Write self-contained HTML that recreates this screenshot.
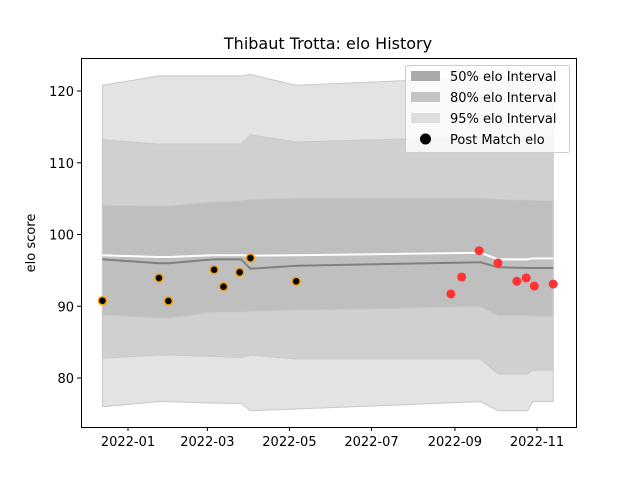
<!DOCTYPE html>
<html><head><meta charset="utf-8"><style>
body{margin:0;background:#fff}
svg text{font-family:"DejaVu Sans","Liberation Sans",sans-serif}
</style></head><body>
<svg id="chart" width="640" height="480" viewBox="0 0 640 480" xmlns="http://www.w3.org/2000/svg">
<rect width="640" height="480" fill="#fff"/>
<text x="328" y="49" font-size="16" text-anchor="middle">Thibaut Trotta: elo History</text>
<g id="plot"></g>
<text transform="translate(35,243) rotate(-90)" font-size="13" text-anchor="middle">elo score</text>
<g>
<rect x="405.5" y="65.5" width="164" height="87" rx="2" fill="#fff" fill-opacity="0.8" stroke="#ccc"/>
<rect x="411" y="71" width="29" height="10" fill="#aaa"/>
<text x="450" y="81" font-size="13">50% elo Interval</text>
<rect x="411" y="92" width="29" height="10" fill="#c4c4c4"/>
<text x="450" y="102" font-size="13">80% elo Interval</text>
<rect x="411" y="113" width="29" height="10" fill="#dedede"/>
<text x="450" y="123" font-size="13">95% elo Interval</text>
<circle cx="425.5" cy="139" r="5.5" fill="#000"/>
<text x="450" y="144" font-size="13">Post Match elo</text>
</g>
</svg>
<script>
const bandDays=[-19,23,30,63,84,91,125,262,275,297,301,316];
const upper95=[120.8,122.1,122.1,122.1,122.1,122.3,120.8,121.9,121.9,121.9,121.9,121.9];
const upper80=[113.2,112.6,112.6,112.6,112.6,113.9,112.9,113.6,113.6,113.6,113.6,113.6];
const upper50=[104.07,103.97,103.97,104.57,104.67,104.9,105.05,105.05,104.9,104.8,104.75,104.7];
const meanLine=[96.54,95.99,95.99,96.54,96.54,95.23,95.65,96.13,95.43,95.33,95.33,95.33];
const whiteLine=[97.1,96.86,96.86,97.1,97.1,97.05,97.1,97.46,96.54,96.54,96.68,96.68];
const lower50=[88.78,88.4,88.32,89.16,89.16,89.3,89.44,89.94,88.68,88.68,88.6,88.6];
const lower80=[82.75,83.2,83.2,83.02,82.88,83.2,82.65,82.65,80.56,80.56,81.1,81.1];
const lower95=[76.0,76.7,76.7,76.5,76.47,75.44,75.68,76.7,75.44,75.44,76.7,76.7];
const pastDays=[-19,23,30,64,71,83,91,125];
const pastElo=[90.77,93.94,90.73,95.09,92.73,94.73,96.72,93.48];
const recentDays=[240,248,261,275,289,296,302,316];
const recentElo=[91.71,94.08,97.74,96.03,93.48,93.94,92.82,93.10];
const xTickDays=[0,59,120,181,243,304];
const xTickLabels=["2022-01","2022-03","2022-05","2022-07","2022-09","2022-11"];
const yTicks=[80,90,100,110,120];

const NS="http://www.w3.org/2000/svg";
const L=81,R=576,T=58,B=427;
function xs(d){return 128+d*1.3454;}
function ys(v){return 91+(120-v)*7.175;}
const g=document.getElementById('plot');
function mk(tag,attrs){const e=document.createElementNS(NS,tag);for(const k in attrs)e.setAttribute(k,attrs[k]);g.appendChild(e);return e;}
function band(up,lo,fill,name){
  let pts=bandDays.map((d,i)=>xs(d)+','+ys(up[i]));
  pts=pts.concat(bandDays.map((d,i)=>xs(d)+','+ys(lo[i])).reverse());
  const p=mk('polygon',{points:pts.join(' '),fill:fill,stroke:'#c8c8c8','stroke-width':1});
  
  
}
band(upper95,lower95,'#e3e3e3','band-95');
band(upper80,lower80,'#d0d0d0','band-80');
band(upper50,lower50,'#bfbfbf','band-50');
function line(vals,color,w,name){
  const p=mk('polyline',{points:bandDays.map((d,i)=>xs(d)+','+ys(vals[i])).join(' '),fill:'none',stroke:color,'stroke-width':w});
  
  
}
line(meanLine,'#808080',2,'mean-line');
line(whiteLine,'#ffffff',2,'white-line');
pastDays.forEach((d,i)=>{
  const c=mk('circle',{cx:xs(d),cy:ys(pastElo[i]),r:4,fill:'#000',stroke:'#f5a000','stroke-width':1.5});
  
  
});
recentDays.forEach((d,i)=>{
  const c=mk('circle',{cx:xs(d),cy:ys(recentElo[i]),r:4.5,fill:'#ff3333'});
  
  
});
const ax=mk('rect',{x:L+0.5,y:T+0.5,width:R-L,height:B-T,fill:'none',stroke:'#000','stroke-width':1});


xTickDays.forEach((d,i)=>{
  const x=xs(d);
  const t=mk('line',{x1:x,x2:x,y1:B,y2:B+4,stroke:'#000'});
  
  
  const l=mk('text',{x:x,y:B+19,'font-size':13,'text-anchor':'middle'});
  l.textContent=xTickLabels[i];
  
  
});
yTicks.forEach(v=>{
  const y=ys(v);
  const t=mk('line',{x1:L-4,x2:L,y1:y,y2:y,stroke:'#000'});
  
  
  const l=mk('text',{x:L-7,y:y+5,'font-size':13,'text-anchor':'end'});
  l.textContent=v;
  
  
});
</script>
</body></html>
